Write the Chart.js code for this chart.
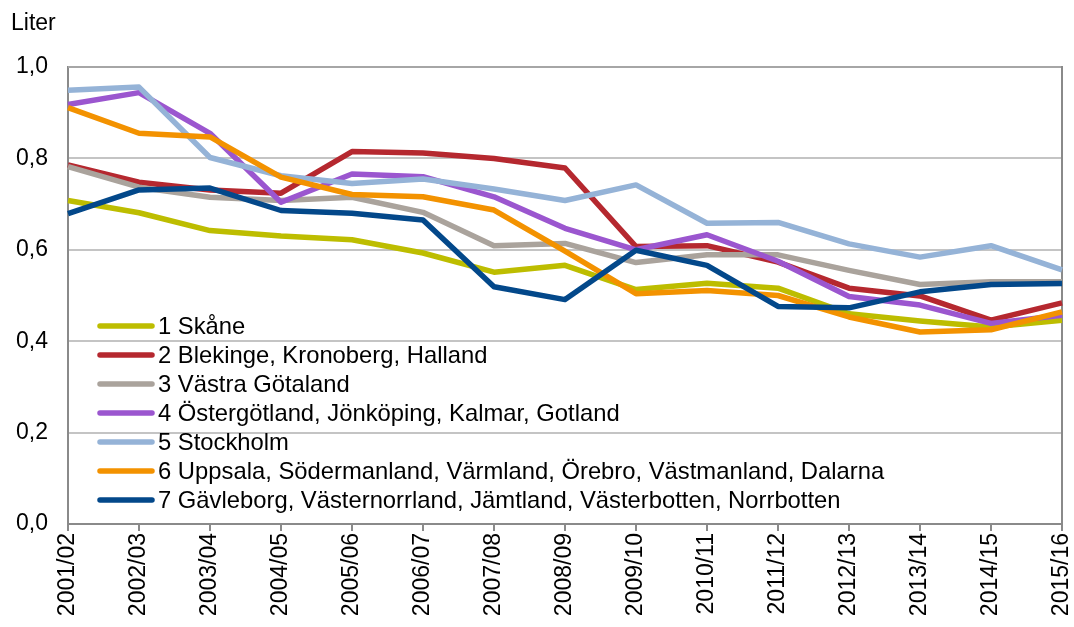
<!DOCTYPE html>
<html>
<head>
<meta charset="utf-8">
<script src="https://cdn.jsdelivr.net/npm/chart.js@4"></script>
<style>
  html, body { margin: 0; padding: 0; background: #fff; }
  #wrap { width: 1074px; height: 627px; }
</style>
</head>
<body>
<div id="wrap"><canvas id="chart" width="1074" height="627"></canvas></div>
<script>
// ── Data (liter per person and year) ──
const seasons = ['2001/02', '2002/03', '2003/04', '2004/05', '2005/06', '2006/07', '2007/08',
    '2008/09', '2009/10', '2010/11', '2011/12', '2012/13', '2013/14', '2014/15', '2015/16'];

const regionNames = [
    '1 Skåne',
    '2 Blekinge, Kronoberg, Halland',
    '3 Västra Götaland',
    '4 Östergötland, Jönköping, Kalmar, Gotland',
    '5 Stockholm',
    '6 Uppsala, Södermanland, Värmland, Örebro, Västmanland, Dalarna',
    '7 Gävleborg, Västernorrland, Jämtland, Västerbotten, Norrbotten'
];

const skane        = [0.708, 0.681, 0.642, 0.630, 0.622, 0.593, 0.551, 0.566, 0.513, 0.527, 0.516, 0.460, 0.444, 0.431, 0.446];
const blekinge     = [0.786, 0.748, 0.731, 0.724, 0.815, 0.812, 0.800, 0.779, 0.607, 0.609, 0.573, 0.516, 0.499, 0.446, 0.484];
const vastra       = [0.782, 0.737, 0.715, 0.708, 0.715, 0.682, 0.609, 0.614, 0.572, 0.589, 0.589, 0.555, 0.524, 0.530, 0.530];
const ostergotland = [0.918, 0.944, 0.855, 0.704, 0.766, 0.760, 0.716, 0.647, 0.600, 0.633, 0.575, 0.498, 0.479, 0.439, 0.457];
const stockholm    = [0.949, 0.956, 0.802, 0.762, 0.745, 0.755, 0.733, 0.708, 0.742, 0.658, 0.660, 0.613, 0.584, 0.609, 0.556];
const uppsala      = [0.911, 0.855, 0.847, 0.759, 0.721, 0.716, 0.687, 0.597, 0.504, 0.511, 0.500, 0.453, 0.420, 0.425, 0.464];
const gavleborg    = [0.679, 0.731, 0.735, 0.686, 0.680, 0.665, 0.519, 0.491, 0.599, 0.566, 0.476, 0.473, 0.508, 0.524, 0.526];

const seriesValues = [skane, blekinge, vastra, ostergotland, stockholm, uppsala, gavleborg];
const seriesColors = ['#bdbd00', '#b5282f', '#aaa39c', '#9b56cf', '#95b3d7', '#f39200', '#03488a'];

const yTicks = [0, 0.2, 0.4, 0.6, 0.8, 1.0];
const yUnit = 'Liter';

const FONT = "'Liberation Sans', Arial, sans-serif";

// ── Title + in-plot legend + right/top frame ──
const decorPlugin = {
    id: 'decor',
    beforeDatasetsDraw(chart) {
        const { ctx, chartArea: a } = chart;
        ctx.save();
        ctx.lineWidth = 2;
        ctx.strokeStyle = '#a6a6a6';
        ctx.beginPath();
        ctx.moveTo(a.left, a.top);
        ctx.lineTo(a.right, a.top);
        ctx.stroke();
        ctx.strokeStyle = '#8a8a8a';
        ctx.beginPath();
        ctx.moveTo(a.right, a.top - 1);
        ctx.lineTo(a.right, a.bottom);
        ctx.stroke();
        ctx.restore();
    },
    afterDraw(chart) {
        const ctx = chart.ctx;
        ctx.save();
        ctx.fillStyle = '#000';
        ctx.font = `23px ${FONT}`;
        ctx.textBaseline = 'alphabetic';
        ctx.textAlign = 'left';
        ctx.fillText(yUnit, 11, 30);

        ctx.font = `23.8px ${FONT}`;
        ctx.textBaseline = 'middle';
        ctx.lineCap = 'round';
        ctx.lineWidth = 5.5;
        regionNames.forEach((name, i) => {
            const y = 326 + i * 29;
            ctx.strokeStyle = seriesColors[i];
            ctx.beginPath();
            ctx.moveTo(100, y);
            ctx.lineTo(152, y);
            ctx.stroke();
            ctx.fillText(name, 158, y + 1);
        });
        ctx.restore();
    }
};

const datasets = seriesValues.map((vals, i) => ({
    label: regionNames[i],
    data: vals,
    borderColor: seriesColors[i],
    backgroundColor: seriesColors[i],
    borderWidth: 5.5,
    pointRadius: 0,
    tension: 0,
    borderJoinStyle: 'round',
    fill: false,
    order: seriesValues.length - i   // later series drawn on top
}));

new Chart(document.getElementById('chart'), {
    type: 'line',
    data: { labels: seasons, datasets },
    options: {
        responsive: false,
        animation: false,
        devicePixelRatio: 1,
        layout: { padding: { left: 0, top: 67, right: 12, bottom: 0 } },
        plugins: {
            legend: { display: false },
            title: { display: false },
            tooltip: { enabled: false }
        },
        scales: {
            x: {
                type: 'category',
                offset: false,
                afterFit: s => {
                    s.height = 103;
                    s.paddingLeft = 0; s.paddingRight = 0;
                },
                grid: { drawOnChartArea: false, drawTicks: true, tickLength: 7, color: '#8a8a8a', lineWidth: 2 },
                border: { color: '#8a8a8a', width: 2 },
                ticks: {
                    autoSkip: false, maxRotation: 90, minRotation: 90, padding: 2,
                    color: '#000', font: { family: FONT, size: 23 }
                }
            },
            y: {
                min: 0, max: 1,
                afterFit: s => {
                    s.width = 68;
                    s.paddingTop = 0; s.paddingBottom = 0;
                },
                afterBuildTicks: s => { s.ticks = yTicks.map(v => ({ value: v })); },
                grid: { drawTicks: false, color: '#c4c4c4', lineWidth: 2 },
                border: { color: '#8a8a8a', width: 2 },
                ticks: {
                    padding: 20,
                    color: '#000',
                    font: { family: FONT, size: 23 },
                    callback: v => v.toFixed(1).replace('.', ',')
                }
            }
        }
    },
    plugins: [decorPlugin]
});
</script>
</body>
</html>
